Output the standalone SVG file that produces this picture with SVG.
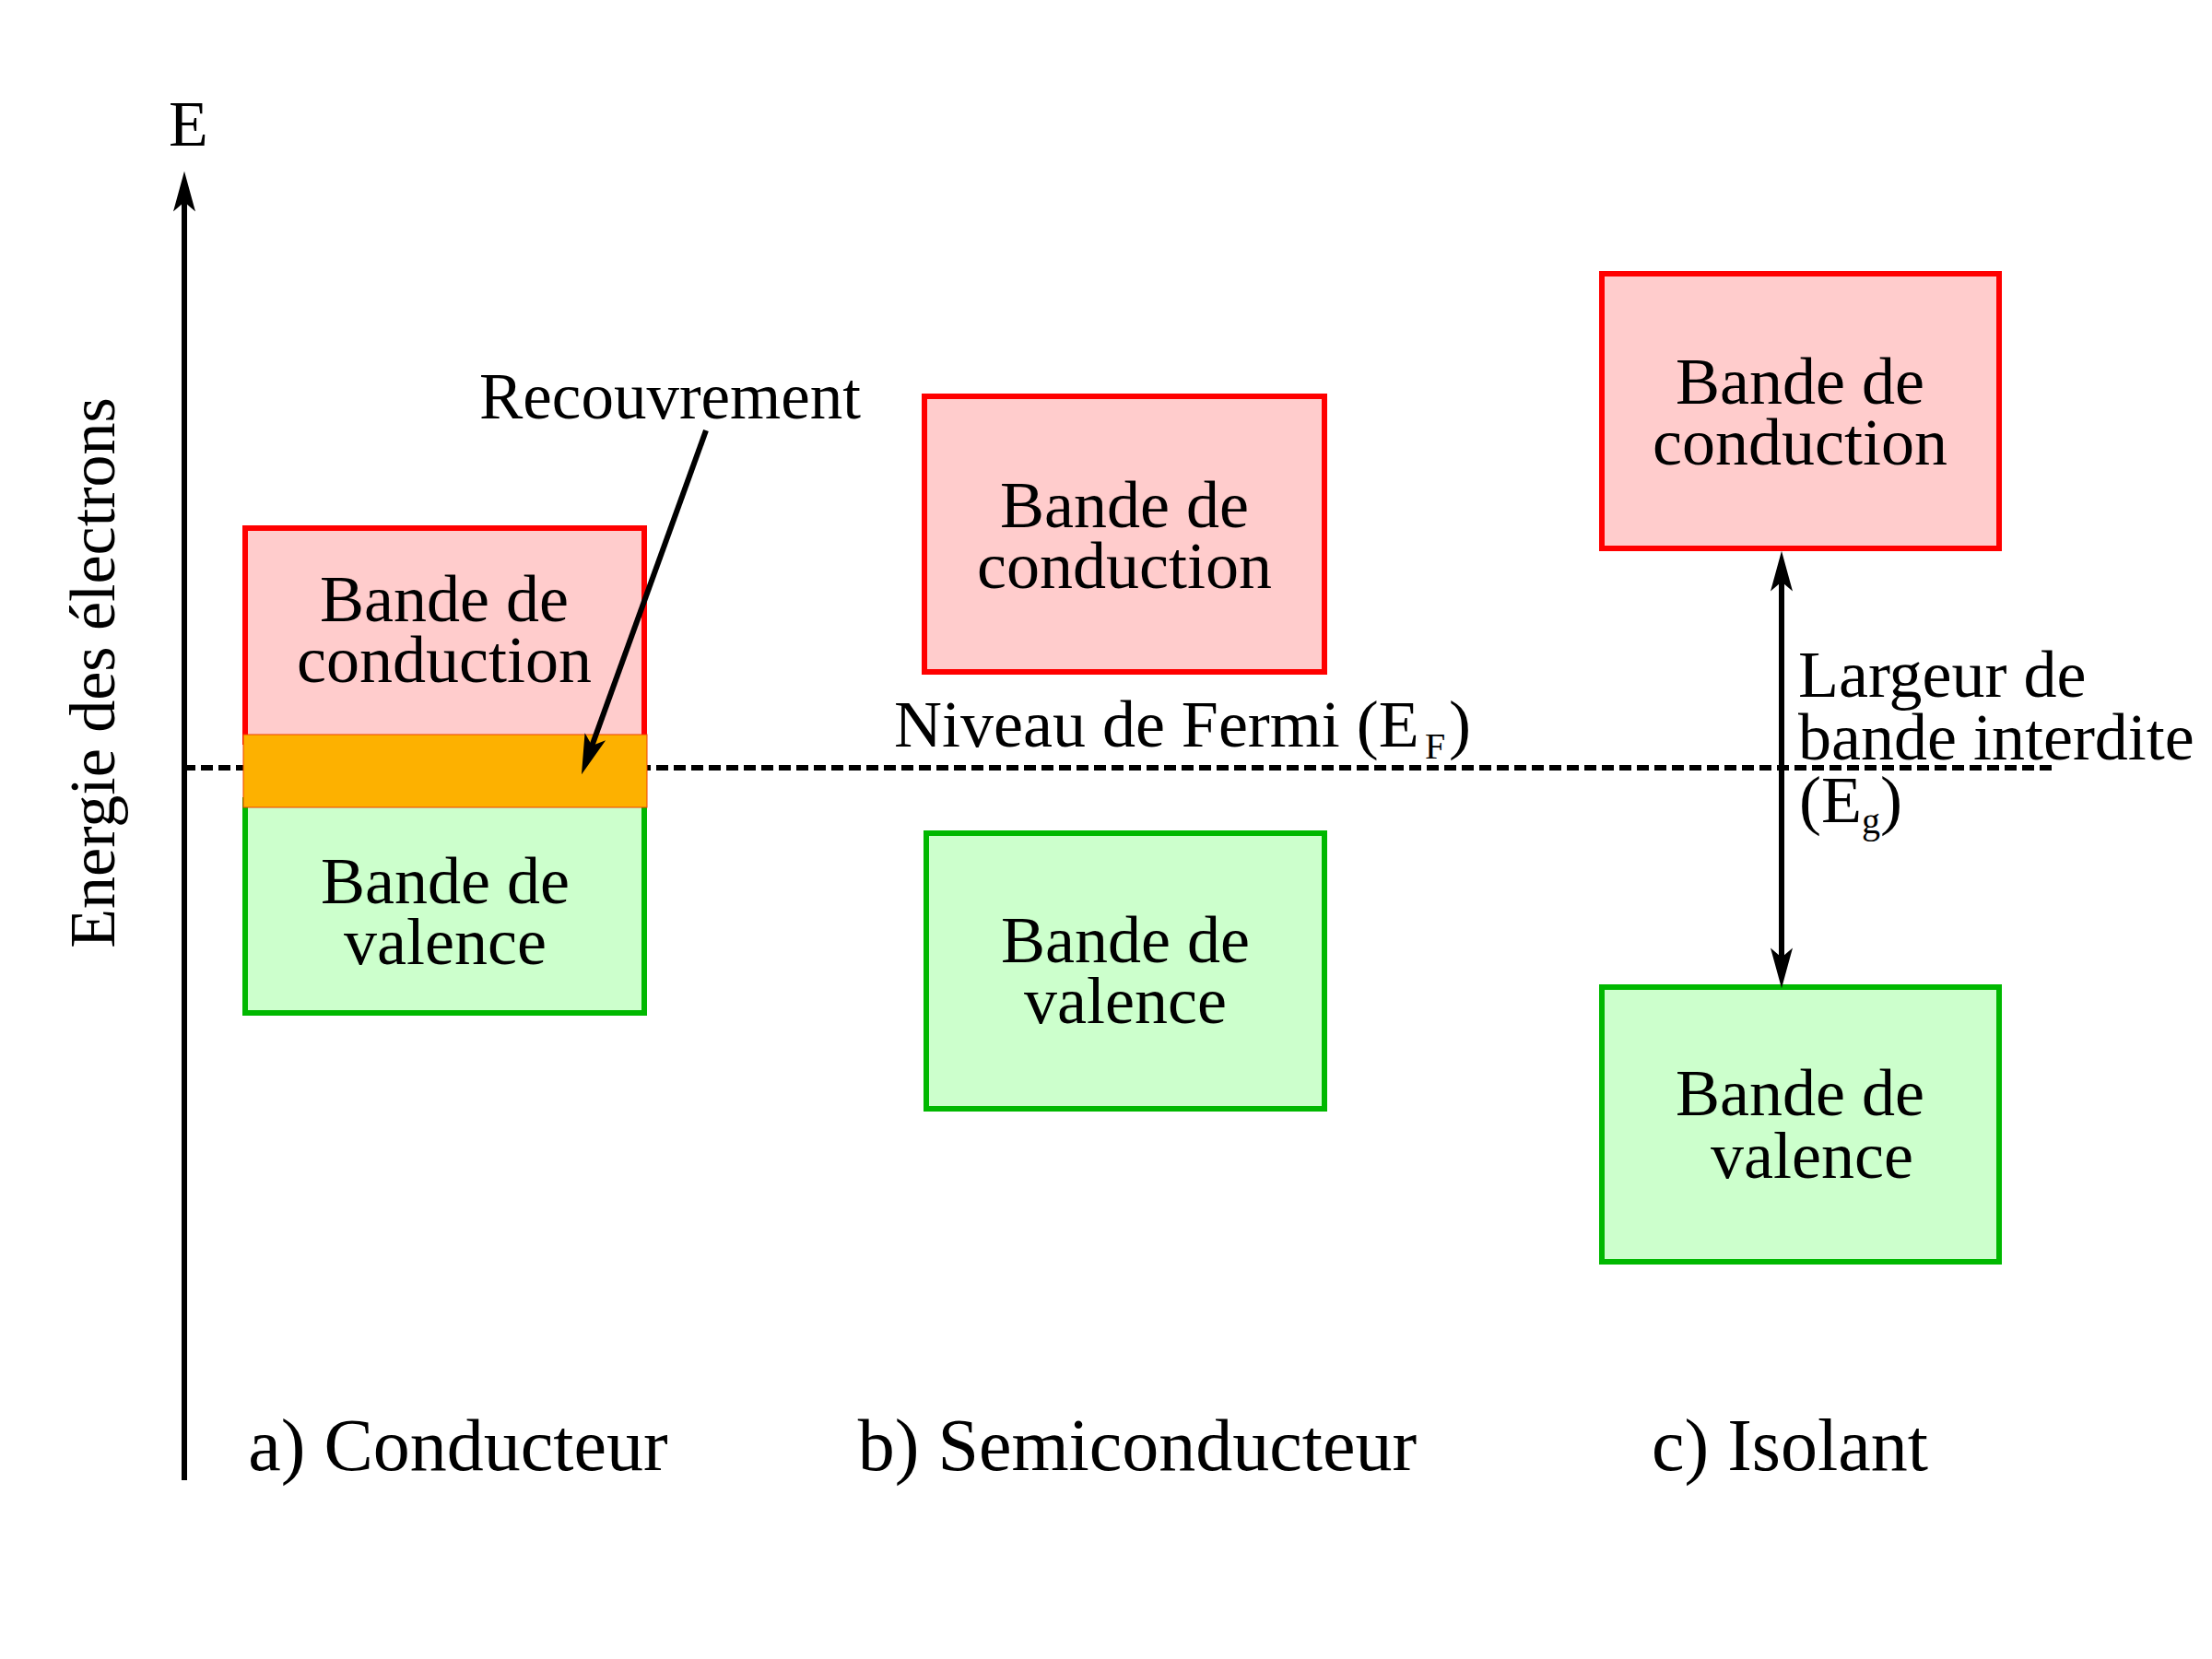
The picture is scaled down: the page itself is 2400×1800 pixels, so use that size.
<svg xmlns="http://www.w3.org/2000/svg" width="2400" height="1800" viewBox="0 0 2400 1800">
<style>
text,tspan{font-family:"Liberation Serif","Times New Roman",serif;fill:#000}
.t{font-size:72px;text-anchor:middle}
.lab{font-size:80px;text-anchor:middle}
.cb{fill:#FFCCCC;stroke:#FF0000;stroke-width:6}
.vb{fill:#CCFFCC;stroke:#00B800;stroke-width:6}
.arr{stroke:#000;stroke-width:6;fill:none}
</style>
<defs>
<marker id="ah" markerUnits="userSpaceOnUse" markerWidth="60" markerHeight="40" viewBox="-40 -20 70 40" refX="0" refY="0" orient="auto-start-reverse" overflow="visible">
<path d="M20,0 L-31,-14 L-19,0 L-31,14 Z" fill="#000"/>
</marker>
</defs>
<rect x="0" y="0" width="2400" height="1800" fill="#fff"/>

<g id="fermi-level">
<line x1="199" y1="833" x2="2226" y2="833" stroke="#000" stroke-width="6" stroke-dasharray="13 6"/>
<text x="970" y="810" font-size="72">Niveau de Fermi (E<tspan x="1546" y="823" font-size="40">F</tspan><tspan x="1572" y="810" font-size="72">)</tspan></text>
</g>

<g id="conducteur-conduction">
<rect class="cb" x="266" y="573" width="433" height="232"/>
<text class="t" x="482" y="674">Bande de<tspan x="482" y="740">conduction</tspan></text>
</g>
<g id="conducteur-valence">
<rect class="vb" x="266" y="868" width="433" height="231"/>
<text class="t" x="483" y="980">Bande de<tspan x="483" y="1046">valence</tspan></text>
</g>
<g id="conducteur-recouvrement">
<rect x="264" y="797" width="438" height="79" fill="#FDB100" stroke="#F04000" stroke-width="1"/>
</g>

<g id="semi-conduction">
<rect class="cb" x="1003" y="430" width="434" height="299"/>
<text class="t" x="1220" y="572">Bande de<tspan x="1220" y="638">conduction</tspan></text>
</g>
<g id="semi-valence">
<rect class="vb" x="1005" y="904" width="432" height="299"/>
<text class="t" x="1221" y="1044">Bande de<tspan x="1221" y="1110">valence</tspan></text>
</g>

<g id="isolant-conduction">
<rect class="cb" x="1738" y="297" width="431" height="298"/>
<text class="t" x="1953" y="438">Bande de<tspan x="1953" y="504">conduction</tspan></text>
</g>
<g id="isolant-valence">
<rect class="vb" x="1738" y="1071" width="431" height="298"/>
<text class="t" x="1953" y="1210">Bande de<tspan x="1966" y="1278">valence</tspan></text>
</g>

<g id="labels">
<text x="183" y="158" font-size="70">E</text>
<text transform="translate(124,730) rotate(-90)" font-size="70" text-anchor="middle">Energie des électrons</text>
<text x="520" y="454" font-size="71">Recouvrement</text>
<text x="1951" y="756" font-size="72">Largeur de<tspan x="1951" y="824">bande interdite</tspan><tspan x="1952" y="892">(E</tspan><tspan y="904" font-size="40">g</tspan><tspan y="892">)</tspan></text>
<text class="lab" x="497" y="1595">a) Conducteur</text>
<text class="lab" x="1234" y="1595">b) Semiconducteur</text>
<text class="lab" x="1942" y="1595">c) Isolant</text>
</g>

<g id="connectors">
<line class="arr" x1="200" y1="1606" x2="200" y2="203" marker-end="url(#ah)"/>
<line class="arr" x1="766" y1="467" x2="636.8" y2="824.2" marker-end="url(#ah)"/>
<line class="arr" x1="1933" y1="615" x2="1933" y2="1055" marker-start="url(#ah)" marker-end="url(#ah)"/>
</g>
</svg>
